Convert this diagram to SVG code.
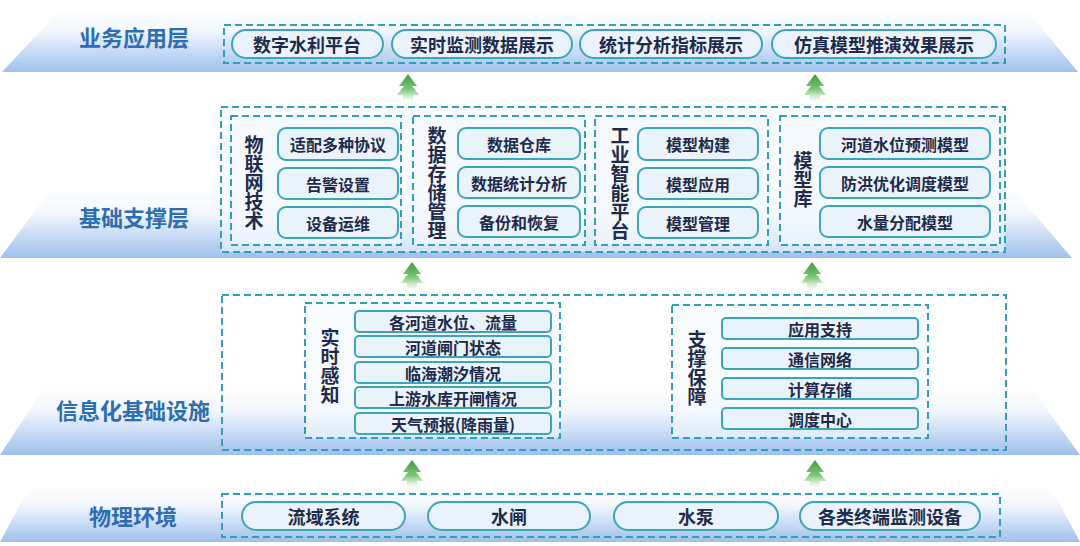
<svg xmlns="http://www.w3.org/2000/svg" width="1080" height="546" viewBox="0 0 1080 546">
<defs>
<linearGradient id="band" x1="0" y1="0" x2="0" y2="1">
<stop offset="0" stop-color="#ffffff"/>
<stop offset="0.35" stop-color="#f2f7fd"/>
<stop offset="1" stop-color="#9fc0ec"/>
</linearGradient>
<linearGradient id="arr" x1="0" y1="0" x2="0" y2="1">
<stop offset="0" stop-color="#3f9e3a"/>
<stop offset="0.55" stop-color="#7cc776"/>
<stop offset="1" stop-color="#ffffff" stop-opacity="0.6"/>
</linearGradient>
<path id="arrow" d="M0,0 L9,12 L4,12 L11,21 L5,21 L5,28 L-5,28 L-5,21 L-11,21 L-4,12 L-9,12 Z" fill="url(#arr)"/>
<style>
.dash{fill:none;stroke:#2ea1b7;stroke-width:2;stroke-dasharray:7 4}
.dashf{fill:#f3f8fd;fill-opacity:0.6;stroke:#2ea1b7;stroke-width:2;stroke-dasharray:7 4}
.pill{fill:#eaf3fb;stroke:#3aa6ba;stroke-width:2}
.title{font-family:"Noto Sans CJK SC","Noto Sans",sans-serif;font-weight:bold;font-size:22px;fill:#2e6db4;text-anchor:middle;dominant-baseline:central}
.t18{font-family:"Noto Sans CJK SC","Noto Sans",sans-serif;font-weight:bold;font-size:18px;fill:#1f2b4a;text-anchor:middle;dominant-baseline:central}
.t16{font-family:"Noto Sans CJK SC","Noto Sans",sans-serif;font-weight:bold;font-size:16px;fill:#1f2b4a;text-anchor:middle;dominant-baseline:central}
.vl{font-family:"Noto Sans CJK SC","Noto Sans",sans-serif;font-weight:bold;font-size:19px;fill:#1f2b4a;text-anchor:middle;writing-mode:vertical-rl;letter-spacing:0}
</style>
</defs>
<rect width="1080" height="546" fill="#ffffff"/>
<g id="bands">
<polygon points="62,8 1025,8 1078,72 2,72" fill="url(#band)"/>
<polygon points="52,188 1012,188 1072,258 0,258" fill="url(#band)"/>
<polygon points="45,386 1030,386 1080,455 0,455" fill="url(#band)"/>
<polygon points="30,486 1050,486 1080,542 0,542" fill="url(#band)"/>
</g>
<g id="layer-app">
<text class="title" x="134" y="36">业务应用层</text>
<rect class="dash" x="224" y="25" width="781" height="38"/>
<g id="app1"><rect class="pill" x="232" y="30" width="151" height="28" rx="14"/><text class="t18" x="307" y="44">数字水利平台</text></g>
<g id="app2"><rect class="pill" x="392" y="30" width="180" height="28" rx="14"/><text class="t18" x="482" y="44">实时监测数据展示</text></g>
<g id="app3"><rect class="pill" x="580" y="30" width="182" height="28" rx="14"/><text class="t18" x="671" y="44">统计分析指标展示</text></g>
<g id="app4"><rect class="pill" x="772" y="30" width="224" height="28" rx="14"/><text class="t18" x="884" y="44">仿真模型推演效果展示</text></g>
</g>
<g id="layer-support">
<text class="title" x="134" y="216">基础支撑层</text>
<rect class="dashf" x="221" y="107" width="784" height="145"/>
<g id="iot">
<rect class="dashf" x="231" y="116" width="170" height="129"/>
<text class="vl" x="254" y="183">物联网技术</text>
<rect class="pill" x="278" y="128" width="120" height="32" rx="8"/><text class="t16" x="338" y="144">适配多种协议</text>
<rect class="pill" x="278" y="168" width="120" height="31" rx="8"/><text class="t16" x="338" y="183.5">告警设置</text>
<rect class="pill" x="278" y="207" width="120" height="31" rx="8"/><text class="t16" x="338" y="222.5">设备运维</text>
</g>
<g id="storage">
<rect class="dashf" x="413" y="116" width="172" height="129"/>
<text class="vl" x="437" y="183">数据存储管理</text>
<rect class="pill" x="458" y="128" width="122" height="31" rx="8"/><text class="t16" x="519" y="143.5">数据仓库</text>
<rect class="pill" x="458" y="167" width="122" height="31" rx="8"/><text class="t16" x="519" y="182.5">数据统计分析</text>
<rect class="pill" x="458" y="206" width="122" height="31" rx="8"/><text class="t16" x="519" y="221.5">备份和恢复</text>
</g>
<g id="ai">
<rect class="dashf" x="595" y="116" width="173" height="129"/>
<text class="vl" x="620" y="183">工业智能平台</text>
<rect class="pill" x="638" y="128" width="120" height="32" rx="8"/><text class="t16" x="698" y="144">模型构建</text>
<rect class="pill" x="638" y="168" width="120" height="31" rx="8"/><text class="t16" x="698" y="183.5">模型应用</text>
<rect class="pill" x="638" y="207" width="120" height="31" rx="8"/><text class="t16" x="698" y="222.5">模型管理</text>
</g>
<g id="models">
<rect class="dashf" x="780" y="116" width="220" height="129"/>
<text class="vl" x="803" y="180">模型库</text>
<rect class="pill" x="820" y="128" width="170" height="31" rx="8"/><text class="t16" x="905" y="143.5">河道水位预测模型</text>
<rect class="pill" x="820" y="167" width="170" height="31" rx="8"/><text class="t16" x="905" y="182.5">防洪优化调度模型</text>
<rect class="pill" x="820" y="206" width="170" height="31" rx="8"/><text class="t16" x="905" y="221.5">水量分配模型</text>
</g>
</g>
<g id="layer-infra">
<text class="title" x="133" y="409">信息化基础设施</text>
<rect class="dash" x="222" y="295" width="784" height="155"/>
<g id="sensing">
<rect class="dashf" x="305" y="303" width="255" height="135"/>
<text class="vl" x="330" y="366">实时感知</text>
<rect class="pill" x="355" y="311" width="196" height="21" rx="4"/><text class="t16" x="453" y="321.5">各河道水位、流量</text>
<rect class="pill" x="355" y="336" width="196" height="21" rx="4"/><text class="t16" x="453" y="346.5">河道闸门状态</text>
<rect class="pill" x="355" y="362" width="196" height="21" rx="4"/><text class="t16" x="453" y="372.5">临海潮汐情况</text>
<rect class="pill" x="355" y="387" width="196" height="21" rx="4"/><text class="t16" x="453" y="397.5">上游水库开闸情况</text>
<rect class="pill" x="355" y="413" width="196" height="21" rx="4"/><text class="t16" x="453" y="423.5">天气预报(降雨量)</text>
</g>
<g id="guarantee">
<rect class="dashf" x="672" y="305" width="256" height="133"/>
<text class="vl" x="697" y="368">支撑保障</text>
<rect class="pill" x="722" y="318" width="196" height="21" rx="4"/><text class="t16" x="820" y="328.5">应用支持</text>
<rect class="pill" x="722" y="348" width="196" height="21" rx="4"/><text class="t16" x="820" y="358.5">通信网络</text>
<rect class="pill" x="722" y="378" width="196" height="21" rx="4"/><text class="t16" x="820" y="388.5">计算存储</text>
<rect class="pill" x="722" y="408" width="196" height="21" rx="4"/><text class="t16" x="820" y="418.5">调度中心</text>
</g>
</g>
<g id="layer-physical">
<text class="title" x="133" y="515">物理环境</text>
<rect class="dash" x="222" y="494" width="778" height="43"/>
<g id="phy1"><rect class="pill" x="242" y="502" width="163" height="28" rx="14"/><text class="t18" x="323.5" y="516">流域系统</text></g>
<g id="phy2"><rect class="pill" x="428" y="502" width="162" height="28" rx="14"/><text class="t18" x="509" y="516">水闸</text></g>
<g id="phy3"><rect class="pill" x="614" y="502" width="164" height="28" rx="14"/><text class="t18" x="696" y="516">水泵</text></g>
<g id="phy4"><rect class="pill" x="800" y="502" width="180" height="28" rx="14"/><text class="t18" x="890" y="516">各类终端监测设备</text></g>
</g>
<g id="connectors">
<use href="#arrow" x="408" y="74"/>
<use href="#arrow" x="815" y="74"/>
<use href="#arrow" x="412" y="262"/>
<use href="#arrow" x="812" y="262"/>
<use href="#arrow" x="412" y="460"/>
<use href="#arrow" x="815" y="460"/>
</g>
</svg>
